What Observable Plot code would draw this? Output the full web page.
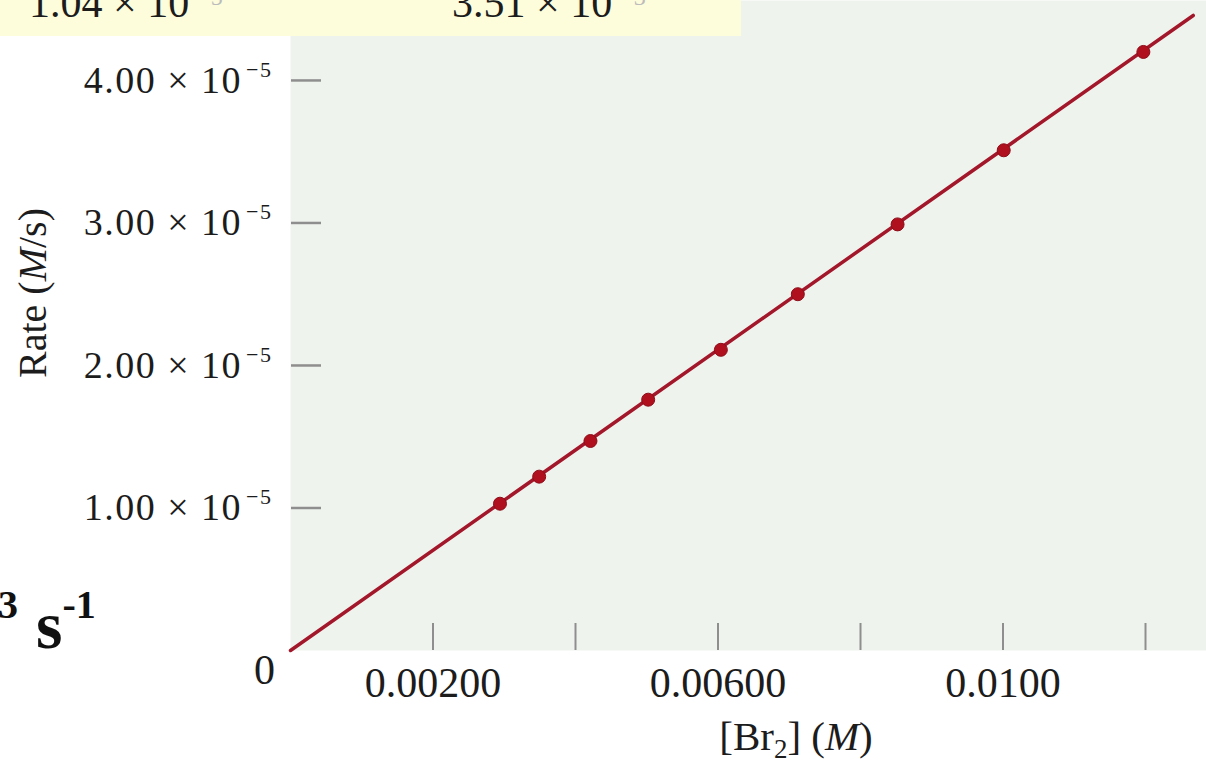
<!DOCTYPE html>
<html>
<head>
<meta charset="utf-8">
<script src="https://cdn.jsdelivr.net/npm/d3@7"></script>
<script src="https://cdn.jsdelivr.net/npm/@observablehq/plot@0.6"></script>
<style>
  html, body { margin: 0; padding: 0; background: #ffffff; }
  #wrap { position: relative; width: 1206px; height: 768px; overflow: hidden; font-family: "Liberation Serif", "Times New Roman", serif; color: #1c1c1c; }
  #chart { position: absolute; left: 0; top: 0; }
  #tablerow { position: absolute; left: 0; top: 0; width: 741px; height: 36px; background: #fdfcdb; overflow: hidden; }
  .cell { position: absolute; top: -18px; font-size: 42px; line-height: 42px; white-space: nowrap; }
  .cell sup { font-size: 24px; position: relative; top: -6px; vertical-align: top; margin-left: 8px; color: #bbb; }
  #kfrag { position: absolute; left: -2px; top: 586px; font-weight: bold; white-space: nowrap; font-family: "Liberation Serif", "Times New Roman", serif; color: #111; }
  svg g[aria-label="y-axis tick label"] text { letter-spacing: 1.5px; }
</style>
</head>
<body>
<div id="wrap">
  <div id="chart"></div>
  <div id="tablerow">
    <span class="cell" id="cellRate" style="left:29px"></span>
    <span class="cell" id="cellK" style="left:452px"></span>
  </div>
  <div id="kfrag"></div>
</div>
<script>
// ---- data ----
const brConc = [0.00294, 0.00349, 0.00421, 0.00502, 0.00604, 0.00712, 0.00852, 0.01001, 0.01197];
const rates  = [1.03e-5, 1.22e-5, 1.47e-5, 1.76e-5, 2.11e-5, 2.50e-5, 2.99e-5, 3.51e-5, 4.20e-5];
const fitX = [0, 0.01267];
const fitY = [0, 4.456e-5];
const xTickValues = [0.002, 0.004, 0.006, 0.008, 0.010, 0.012];
const xLabelValues = [0.002, 0.006, 0.010];
const xLabelText = ["0.00200", "0.00600", "0.0100"];
const yTickValues = [1e-5, 2e-5, 3e-5, 4e-5];
const yLabelMantissa = ["1.00 × 10", "2.00 × 10", "3.00 × 10", "4.00 × 10"];
const yLabelExponent = "−5";
const originLabel = ["0"];
const tableRowRate = ["1.04 × 10", "−5"];
const tableRowK = ["3.51 × 10", "−3"];
const kFragment = ["3", "s", "-1"];

const points = brConc.map((b, i) => ({br: b, rate: rates[i]}));
const fit = fitX.map((b, i) => ({br: b, rate: fitY[i]}));

const tickColor = "#8e8e8e";
const lineColor = "#a3172b";
const dotColor = "#b0101e";
const font = '"Liberation Serif", "Times New Roman", serif';

const plot = Plot.plot({
  width: 1206,
  height: 768,
  marginLeft: 290,
  marginRight: 0,
  marginTop: 0,
  marginBottom: 118,
  style: {background: "transparent", fontFamily: font, color: "#1c1c1c"},
  x: {domain: [0, 0.012856], label: null},
  y: {domain: [0, 4.561e-5], label: null},
  marks: [
    Plot.frame({fill: "#eff3ee", stroke: "none"}),
    Plot.axisX({ticks: xTickValues, tickSize: 27, dy: -27, fill: "none", stroke: tickColor, strokeWidth: 2, label: null}),
    Plot.axisY({ticks: yTickValues, tickSize: 30, dx: 31, fill: "none", stroke: tickColor, strokeWidth: 2.5, label: null}),
    Plot.axisX({ticks: xLabelValues, tickSize: 0, tickPadding: 17, fontSize: 42,
      tickFormat: d => xLabelText[xLabelValues.indexOf(d)], label: null}),
    Plot.axisY({ticks: yTickValues, tickSize: 0, tickPadding: 18, fontSize: 38,
      tickFormat: d => yLabelMantissa[yTickValues.indexOf(d)], label: null}),
    Plot.text(originLabel, {x: () => 0, frameAnchor: "bottom", text: d => d, dx: -26, dy: 33, fontSize: 42}),
    Plot.line(fit, {x: "br", y: "rate", stroke: lineColor, strokeWidth: 3.5}),
    Plot.dot(points, {x: "br", y: "rate", r: 6.5, fill: dotColor, stroke: "#8e0c18", strokeWidth: 1})
  ]
});

document.getElementById("chart").appendChild(plot);

// superscripts on y tick labels
const ns = "http://www.w3.org/2000/svg";
plot.querySelectorAll('g[aria-label="y-axis tick label"] text').forEach(t => {
  const ts = document.createElementNS(ns, "tspan");
  ts.setAttribute("dy", "-16");
  ts.setAttribute("dx", "4");
  ts.setAttribute("font-size", "22");
  ts.textContent = yLabelExponent;
  t.appendChild(ts);
});

// axis titles
const svg = d3.select(plot);
const xt = svg.append("text")
  .attr("x", 796).attr("y", 750)
  .attr("text-anchor", "middle")
  .attr("font-size", 41).attr("fill", "#1c1c1c").attr("font-family", font);
xt.append("tspan").text("[Br");
xt.append("tspan").attr("font-size", 27).attr("dy", 8).text("2");
xt.append("tspan").attr("dy", -8).text("] (");
xt.append("tspan").attr("font-style", "italic").text("M");
xt.append("tspan").text(")");

const yt = svg.append("text")
  .attr("transform", "translate(46,293) rotate(-90)")
  .attr("text-anchor", "middle")
  .attr("font-size", 40).attr("fill", "#1c1c1c").attr("font-family", font);
yt.append("tspan").text("Rate (");
yt.append("tspan").attr("font-style", "italic").text("M");
yt.append("tspan").text("/s)");

// cut-off table row at the top
document.getElementById("cellRate").innerHTML = tableRowRate[0] + "<sup>" + tableRowRate[1] + "</sup>";
document.getElementById("cellK").innerHTML = tableRowK[0] + "<sup>" + tableRowK[1] + "</sup>";

// cut-off rate constant fragment on the left
document.getElementById("kfrag").innerHTML =
  '<span style="font-size:40px;position:relative;top:-30px">' + kFragment[0] + '</span>' +
  '<span style="font-size:68px;margin-left:18px">' + kFragment[1] + '</span>' +
  '<span style="font-size:40px;position:relative;top:-30px">' + kFragment[2] + '</span>';
</script>
</body>
</html>
